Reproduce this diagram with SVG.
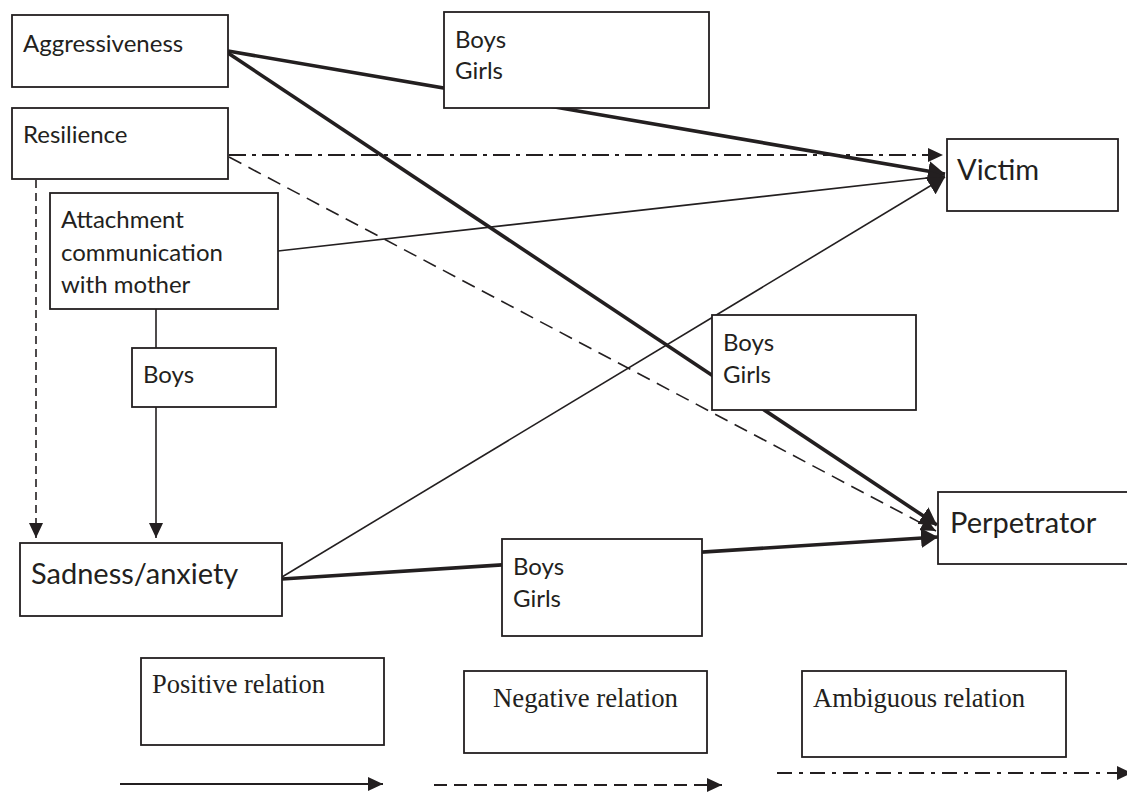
<svg xmlns="http://www.w3.org/2000/svg" width="1127" height="792" viewBox="0 0 1127 792">
<defs>
<style>
.box{fill:#fff;stroke:#231f20;stroke-width:1.8}
.t{font-family:Lato,"Open Sans","Liberation Sans",sans-serif;font-size:24px;fill:#231f20}
.tb{font-family:Lato,"Open Sans","Liberation Sans",sans-serif;font-size:29px;fill:#231f20}
.ts{font-family:"Liberation Serif","Times New Roman",serif;font-size:27px;fill:#231f20}
.thin{fill:none;stroke:#231f20;stroke-width:1.6}
.thick{fill:none;stroke:#231f20;stroke-width:3.6}
.dash{fill:none;stroke:#231f20;stroke-width:1.6;stroke-dasharray:14 8}
.vdash{fill:none;stroke:#231f20;stroke-width:1.6;stroke-dasharray:8 5}
.dashdot{fill:none;stroke:#231f20;stroke-width:1.8;stroke-dasharray:17 6 4 6}
.ldash{fill:none;stroke:#231f20;stroke-width:2;stroke-dasharray:13 7}
.ldashdot{fill:none;stroke:#231f20;stroke-width:2.2;stroke-dasharray:15 7 4 7}
</style>
<marker id="ah" markerUnits="userSpaceOnUse" markerWidth="15" markerHeight="14" refX="15" refY="7" orient="auto"><path d="M0,0 L15,7 L0,14 z" fill="#231f20"/></marker>
<marker id="ahb" markerUnits="userSpaceOnUse" markerWidth="17" markerHeight="20" refX="17" refY="10" orient="auto"><path d="M0,0 L17,10 L0,20 z" fill="#231f20"/></marker>
</defs>
<rect width="1127" height="792" fill="#fff"/>
<g id="connectors">
<line class="thick" x1="228" y1="51" x2="945" y2="174" marker-end="url(#ahb)"/>
<line class="thick" x1="228" y1="53" x2="937" y2="525" marker-end="url(#ahb)"/>
<line class="dashdot" x1="229" y1="155" x2="943" y2="155" marker-end="url(#ah)"/>
<line class="dash" x1="229" y1="157" x2="936" y2="531" marker-end="url(#ah)"/>
<line class="vdash" x1="36" y1="180" x2="36" y2="538" marker-end="url(#ah)"/>
<line class="thin" x1="278" y1="251" x2="945" y2="176" marker-end="url(#ah)"/>
<line class="thin" x1="156" y1="300" x2="156" y2="348"/>
<line class="thin" x1="156" y1="407" x2="156" y2="538" marker-end="url(#ah)"/>
<line class="thin" x1="282" y1="577" x2="945" y2="177" marker-end="url(#ahb)"/>
<line class="thick" x1="282" y1="579" x2="938" y2="537" marker-end="url(#ahb)"/>
</g>
<g id="n-aggressiveness"><rect class="box" x="12" y="15" width="216" height="72"/><text class="t" x="23" y="52">Aggressiveness</text></g>
<g id="n-resilience"><rect class="box" x="12" y="108" width="216" height="71"/><text class="t" x="23" y="143">Resilience</text></g>
<g id="n-attachment"><rect class="box" x="50" y="193" width="228" height="116"/><text class="t" x="61" y="228">Attachment</text><text class="t" x="61" y="261">communication</text><text class="t" x="61" y="293">with mother</text></g>
<g id="n-boys-small"><rect class="box" x="132" y="348" width="144" height="59"/><text class="t" x="143" y="383">Boys</text></g>
<g id="n-bg-top"><rect class="box" x="444" y="12" width="265" height="96"/><text class="t" x="455" y="48">Boys</text><text class="t" x="455" y="79">Girls</text></g>
<g id="n-bg-mid"><rect class="box" x="712" y="315" width="204" height="95"/><text class="t" x="723" y="351">Boys</text><text class="t" x="723" y="383">Girls</text></g>
<g id="n-bg-bottom"><rect class="box" x="502" y="539" width="200" height="97"/><text class="t" x="513" y="575">Boys</text><text class="t" x="513" y="607">Girls</text></g>
<g id="n-victim"><rect class="box" x="947" y="139" width="171" height="72"/><text class="tb" x="957" y="180">Victim</text></g>
<g id="n-perpetrator"><rect class="box" x="938" y="492" width="195" height="72"/><text class="tb" x="950" y="533">Perpetrator</text></g>
<g id="n-sadness"><rect class="box" x="20" y="543" width="262" height="73"/><text class="tb" x="31" y="584">Sadness/anxiety</text></g>
<g id="legend">
<g id="l-positive"><rect class="box" x="141" y="658" width="243" height="87"/><text class="ts" x="152" y="693" textLength="173" lengthAdjust="spacingAndGlyphs">Positive relation</text></g>
<g id="l-negative"><rect class="box" x="464" y="671" width="243" height="82"/><text class="ts" x="493" y="707" textLength="185" lengthAdjust="spacingAndGlyphs">Negative relation</text></g>
<g id="l-ambiguous"><rect class="box" x="802" y="671" width="264" height="86"/><text class="ts" x="813" y="707" textLength="212" lengthAdjust="spacingAndGlyphs">Ambiguous relation</text></g>
<line class="thin" style="stroke-width:2" x1="120" y1="784" x2="383" y2="784" marker-end="url(#ah)"/>
<line class="ldash" x1="434" y1="785" x2="722" y2="785" marker-end="url(#ah)"/>
<line class="ldashdot" x1="777" y1="773" x2="1132" y2="773" marker-end="url(#ah)"/>
</g>
</svg>
